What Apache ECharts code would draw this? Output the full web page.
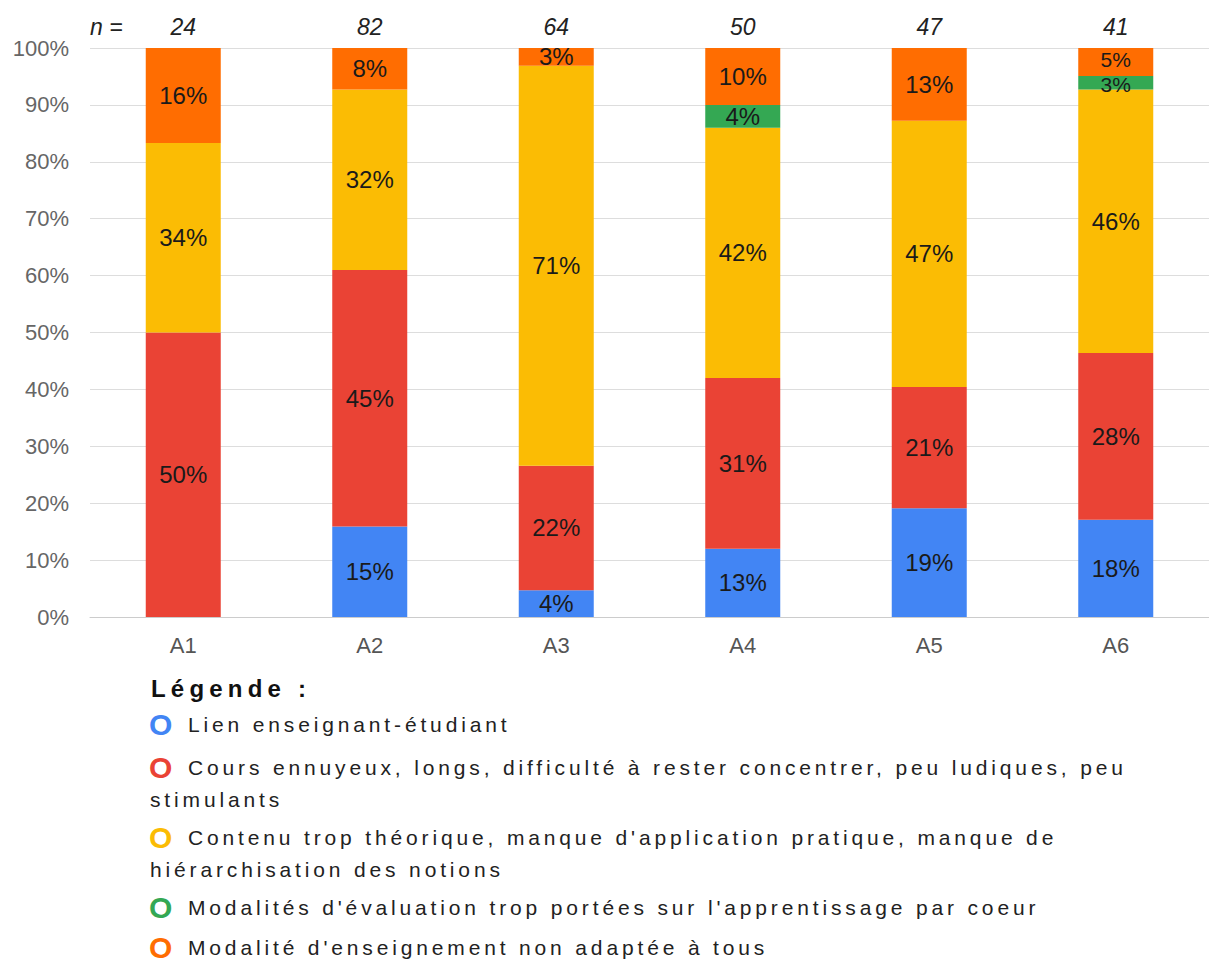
<!DOCTYPE html>
<html>
<head>
<meta charset="utf-8">
<script src="https://cdn.jsdelivr.net/npm/echarts@6/dist/echarts.min.js"></script>
<style>
html,body{margin:0;padding:0;background:#fff;}
#chart{width:1209px;height:962px;}
#chart text[style*="LegendSpaced"]{letter-spacing:3.85px;}
#chart text[style*="LegendTitle"]{letter-spacing:5.2px;}
</style>
</head>
<body>
<div id="chart"></div>
<script>
const categories = ['A1', 'A2', 'A3', 'A4', 'A5', 'A6'];
const nValues = ['24', '82', '64', '50', '47', '41'];
const seriesNames = [
  'Lien enseignant-étudiant',
  'Cours ennuyeux, longs, difficulté à rester concentrer, peu ludiques, peu stimulants',
  "Contenu trop théorique, manque d'application pratique, manque de hiérarchisation des notions",
  "Modalités d'évaluation trop portées sur l'apprentissage par coeur",
  "Modalité d'enseignement non adaptée à tous"
];
// segment heights (%)
const lienValues = [0, 15.9, 4.7, 12, 19.1, 17.1];
const coursValues = [50, 45.1, 21.9, 30, 21.3, 29.3];
const contenuValues = [33.3, 31.7, 70.3, 44, 46.8, 46.3];
const evaluationValues = [0, 0, 0, 4, 0, 2.4];
const enseignementValues = [16.7, 7.3, 3.1, 10, 12.8, 4.9];
// labels printed on the segments
const lienLabels = ['', '15%', '4%', '13%', '19%', '18%'];
const coursLabels = ['50%', '45%', '22%', '31%', '21%', '28%'];
const contenuLabels = ['34%', '32%', '71%', '42%', '47%', '46%'];
const evaluationLabels = ['', '', '', '4%', '', '3%'];
const enseignementLabels = ['16%', '8%', '3%', '10%', '13%', '5%'];
const colors = ['#4285F4', '#EA4335', '#FBBC04', '#34A853', '#FF6D01'];
const legendTitle = 'Légende :';
const legendLines = [
  ['Lien enseignant-étudiant'],
  ['Cours ennuyeux, longs, difficulté à rester concentrer, peu ludiques, peu', 'stimulants'],
  ["Contenu trop théorique, manque d'application pratique, manque de", 'hiérarchisation des notions'],
  ["Modalités d'évaluation trop portées sur l'apprentissage par coeur"],
  ["Modalité d'enseignement non adaptée à tous"]
];

const allValues = [lienValues, coursValues, contenuValues, evaluationValues, enseignementValues];
const allLabels = [lienLabels, coursLabels, contenuLabels, evaluationLabels, enseignementLabels];
const chart = echarts.init(document.getElementById('chart'), null, {renderer: 'svg'});

// two thin segments stacked on each other: slightly smaller labels pushed apart
function tightPair(i, j) {
  const v = allValues[i][j];
  if (!(v > 0 && v < 5)) return 0;
  const below = i > 0 ? allValues[i - 1][j] : 100;
  const above = i < allValues.length - 1 ? allValues[i + 1][j] : 100;
  if (above > 0 && above < 5) return -1;
  if (below > 0 && below < 5) return 1;
  return 0;
}

const series = allValues.map((vals, i) => ({
  name: seriesNames[i],
  type: 'bar',
  stack: 'total',
  barWidth: 75,
  data: vals.map((v, j) => {
    const t = tightPair(i, j);
    if (!t) return v;
    return {value: v, label: {fontSize: 21, offset: [0, t < 0 ? 2 : -2]}};
  }),
  itemStyle: {color: colors[i]},
  label: {
    show: true,
    position: 'inside',
    color: '#1a1a1a',
    fontSize: 24,
    lineHeight: 18,
    fontFamily: 'Arial',
    formatter: p => allLabels[i][p.dataIndex]
  }
}));

const LF = "'Liberation Sans', LegendSpaced";
const TF = "'Liberation Sans', LegendTitle";
const graphics = [
  {type: 'text', x: 90, y: 27, style: {text: 'n =', font: 'italic 23px Arial', fill: '#222', verticalAlign: 'middle'}},
  {type: 'text', x: 151, y: 688, style: {text: legendTitle, fontFamily: TF, fontWeight: 'bold', fontSize: 24, fill: '#111', verticalAlign: 'middle'}}
];
const lineY = [[724], [767, 799], [837, 869], [907], [947]];
legendLines.forEach((lines, i) => {
  graphics.push({type: 'text', x: 149, y: lineY[i][0],
    style: {text: 'O', fontFamily: 'Arial', fontWeight: 'bold', fontSize: 30, fill: colors[i], verticalAlign: 'middle'}});
  graphics.push({type: 'text', x: 188, y: lineY[i][0],
    style: {text: lines[0], fontFamily: LF, fontSize: 21, fill: '#222', verticalAlign: 'middle'}});
  if (lines[1]) {
    graphics.push({type: 'text', x: 150, y: lineY[i][1],
      style: {text: lines[1], fontFamily: LF, fontSize: 21, fill: '#222', verticalAlign: 'middle'}});
  }
});

chart.setOption({
  animation: false,
  grid: {left: 90, top: 48, width: 1126, height: 569, containLabel: false},
  xAxis: [
    {
      type: 'category', data: categories, position: 'bottom',
      axisLine: {show: true, lineStyle: {color: '#ccc', width: 1}},
      axisTick: {show: false},
      axisLabel: {color: '#555', fontSize: 22, fontFamily: 'Arial', margin: 17}
    },
    {
      type: 'category', data: nValues, position: 'top',
      axisLine: {show: false}, axisTick: {show: false},
      axisLabel: {color: '#222', fontSize: 23, fontStyle: 'italic', fontFamily: 'Arial', margin: 10}
    }
  ],
  yAxis: {
    type: 'value', min: 0, max: 100, interval: 10,
    axisLine: {show: false}, axisTick: {show: false},
    splitLine: {lineStyle: {color: '#ddd', width: 1}},
    axisLabel: {color: '#666', fontSize: 22, fontFamily: 'Arial', margin: 21, formatter: v => v + '%'}
  },
  series: series,
  graphic: graphics
});
</script>
</body>
</html>
